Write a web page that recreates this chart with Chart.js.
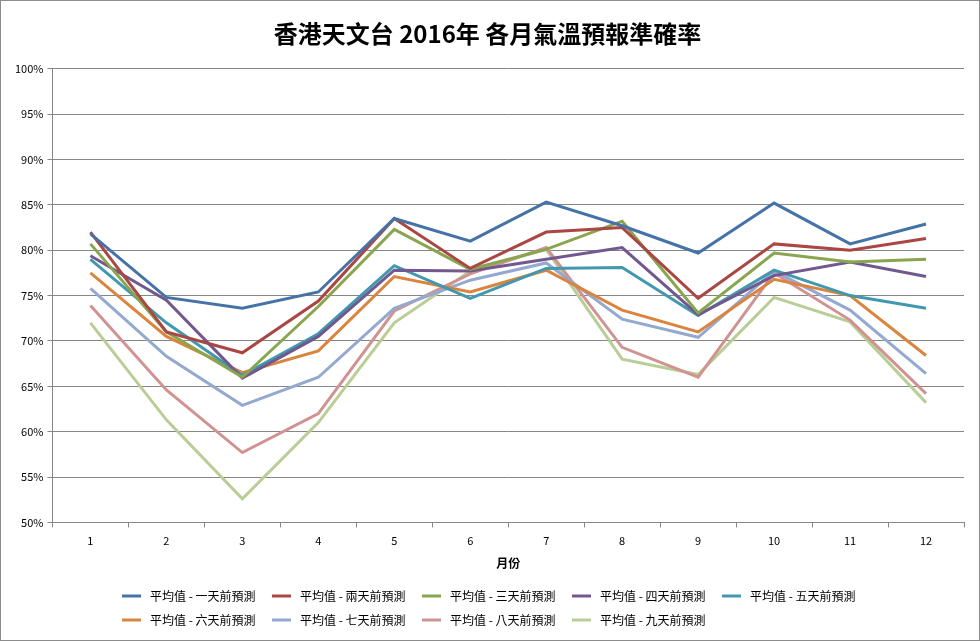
<!DOCTYPE html>
<html>
<head>
<meta charset="utf-8">
<script src="https://cdn.jsdelivr.net/npm/chart.js@4"></script>
<style>
  html, body { margin: 0; padding: 0; background: #fff; }
  #wrap { width: 980px; height: 641px; position: relative; }
</style>
</head>
<body>
<div id="wrap"><canvas id="chart"></canvas></div>
<script>
const months = ['1', '2', '3', '4', '5', '6', '7', '8', '9', '10', '11', '12'];
const seriesNames = [
  '平均值 - 一天前預測', '平均值 - 兩天前預測', '平均值 - 三天前預測',
  '平均值 - 四天前預測', '平均值 - 五天前預測', '平均值 - 六天前預測',
  '平均值 - 七天前預測', '平均值 - 八天前預測', '平均值 - 九天前預測'
];
const day1 = [81.8, 74.8, 73.6, 75.4, 83.5, 81.0, 85.3, 82.7, 79.7, 85.2, 80.7, 82.9];
const day2 = [82.0, 71.0, 68.7, 74.4, 83.5, 78.0, 82.0, 82.5, 74.7, 80.7, 80.0, 81.3];
const day3 = [80.7, 71.0, 66.0, 73.8, 82.3, 77.9, 80.1, 83.2, 73.1, 79.7, 78.7, 79.0];
const day4 = [79.4, 74.5, 65.9, 70.5, 77.8, 77.7, 79.0, 80.3, 72.9, 77.2, 78.7, 77.1];
const day5 = [79.0, 72.0, 66.2, 70.8, 78.3, 74.7, 78.0, 78.1, 72.8, 77.8, 75.0, 73.6];
const day6 = [77.5, 70.5, 66.5, 68.9, 77.1, 75.4, 77.8, 73.4, 71.0, 76.8, 75.0, 68.4];
const day7 = [75.8, 68.3, 62.9, 66.0, 73.6, 76.7, 78.6, 72.4, 70.4, 77.7, 73.4, 66.4];
const day8 = [73.9, 64.6, 57.7, 62.0, 73.3, 77.4, 80.3, 69.3, 66.0, 77.5, 72.3, 64.2];
const day9 = [72.0, 61.3, 52.6, 61.0, 72.0, 77.7, 80.1, 68.0, 66.3, 74.8, 72.1, 63.2];
const allSeries = [day1, day2, day3, day4, day5, day6, day7, day8, day9];
const colors = ['#4572A7', '#AA4643', '#89A54E', '#71588F', '#4198AF', '#DB843D', '#93A9CF', '#D19392', '#B9CD96'];

const cjk = '"Noto Sans CJK TC", "Noto Sans", sans-serif';

// legend drawn as a 5-column grid like the original, plus outer frame
const gridLegend = {
  id: 'gridLegend',
  afterDraw(chart) {
    const ctx = chart.ctx;
    ctx.save();
    ctx.strokeStyle = '#8c8c8c';
    ctx.lineWidth = 1;
    ctx.strokeRect(0.5, 0.5, chart.width - 1, chart.height - 1);
    ctx.font = '12px ' + cjk;
    ctx.textBaseline = 'middle';
    ctx.fillStyle = '#000';
    chart.data.datasets.forEach((ds, i) => {
      const x = 122 + (i % 5) * 150;
      const y = 596 + Math.floor(i / 5) * 24;
      ctx.strokeStyle = ds.borderColor;
      ctx.lineWidth = 3;
      ctx.beginPath();
      ctx.moveTo(x, y);
      ctx.lineTo(x + 19, y);
      ctx.stroke();
      ctx.fillText(ds.label, x + 28, y);
    });
    ctx.restore();
  }
};

new Chart(document.getElementById('chart'), {
  type: 'line',
  data: {
    labels: months,
    datasets: allSeries.map((d, i) => ({
      label: seriesNames[i],
      data: d,
      borderColor: colors[i],
      backgroundColor: colors[i],
      borderWidth: 3,
      pointRadius: 0,
      tension: 0
    }))
  },
  options: {
    responsive: true,
    maintainAspectRatio: false,
    animation: false,
    layout: { padding: { left: 11, right: 16, top: 12, bottom: 66 } },
    plugins: {
      legend: { display: false },
      tooltip: { enabled: false },
      title: {
        display: true,
        text: '香港天文台 2016年 各月氣溫預報準確率',
        color: '#000',
        font: { family: cjk, size: 24, weight: 'bold' },
        padding: { top: 7, bottom: 21 }
      }
    },
    scales: {
      x: {
        offset: true,
        grid: { display: true, drawOnChartArea: false, offset: true, color: '#868686', tickLength: 5 },
        border: { color: '#868686' },
        ticks: { color: '#000', font: { family: cjk, size: 11 }, padding: 7 },
        title: { display: true, text: '月份', color: '#000', font: { family: cjk, size: 12, weight: 'bold' }, padding: { top: 2 } }
      },
      y: {
        min: 50,
        max: 100,
        grid: { color: '#868686', tickLength: 5 },
        border: { color: '#868686' },
        ticks: {
          stepSize: 5,
          color: '#000',
          font: { family: cjk, size: 11 },
          padding: 4,
          callback: v => v + '%'
        }
      }
    }
  },
  plugins: [gridLegend]
});
</script>
</body>
</html>
